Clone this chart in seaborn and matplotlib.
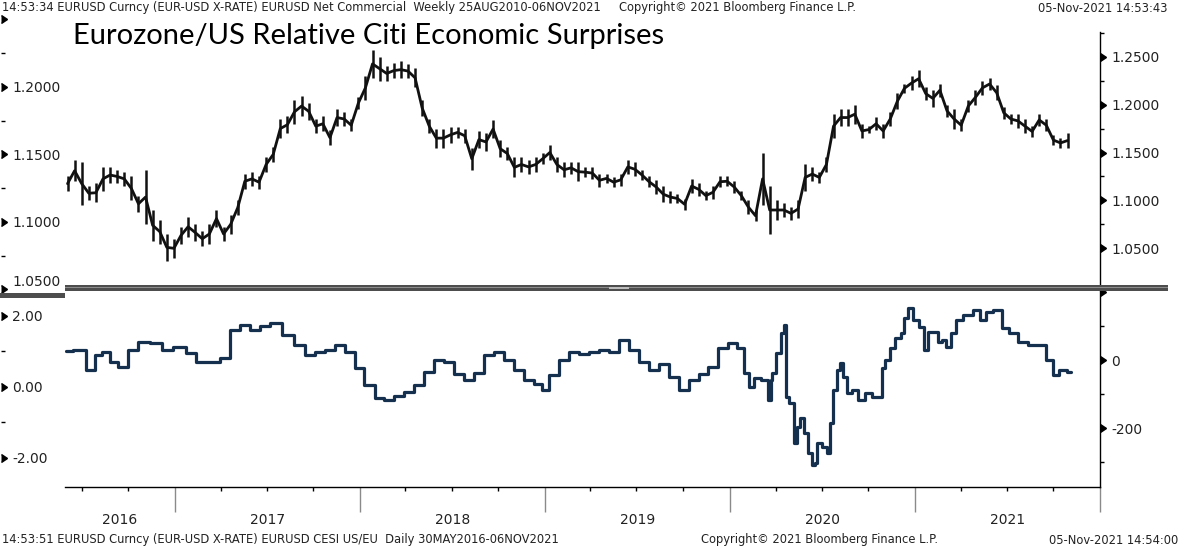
import pandas as pd
import matplotlib.pyplot as plt
import matplotlib.dates as mdates
import matplotlib.markers as mmarkers
import matplotlib.transforms as mtransforms
from matplotlib.patches import Rectangle
import seaborn as sns

sns.set_style('white')
plt.rcParams['font.family'] = ['DejaVu Sans']

# ---- data ----
# EURUSD, bi-weekly high / low
eur_dates = pd.date_range('2016-06-03', periods=142, freq='14D')
eur_hi = [1.125, 1.142, 1.140, 1.115, 1.118, 1.135, 1.135, 1.132, 1.130, 1.125, 1.105, 1.132, 1.090, 1.080, 1.065, 1.060,
          1.072, 1.083, 1.075, 1.068, 1.075, 1.090, 1.072, 1.085, 1.100, 1.128, 1.130, 1.126, 1.145, 1.156, 1.185, 1.188,
          1.205, 1.209, 1.202, 1.185, 1.188, 1.173, 1.195, 1.192, 1.185, 1.208,
          1.230, 1.257, 1.250, 1.240, 1.243, 1.245, 1.242, 1.238, 1.205, 1.185, 1.175, 1.175, 1.177, 1.177, 1.175, 1.155,
          1.172, 1.170, 1.184, 1.163, 1.156, 1.145, 1.145, 1.142, 1.145, 1.149,
          1.158, 1.145, 1.140, 1.140, 1.140, 1.135, 1.135, 1.128, 1.128, 1.124, 1.128, 1.142, 1.140, 1.132, 1.125, 1.121,
          1.115, 1.110, 1.107, 1.102, 1.122, 1.118, 1.110, 1.115, 1.125, 1.125,
          1.120, 1.110, 1.100, 1.090, 1.150, 1.115, 1.100, 1.097, 1.093, 1.100, 1.138, 1.135, 1.130, 1.145, 1.190, 1.195,
          1.195, 1.200, 1.180, 1.178, 1.187, 1.180, 1.192, 1.212, 1.222, 1.230,
          1.236, 1.218, 1.215, 1.222, 1.200, 1.195, 1.185, 1.205, 1.215, 1.225, 1.228, 1.220, 1.198, 1.190, 1.190, 1.185,
          1.178, 1.190, 1.185, 1.168, 1.165, 1.170]
eur_lo = [1.110, 1.120, 1.095, 1.100, 1.098, 1.110, 1.118, 1.118, 1.115, 1.100, 1.088, 1.075, 1.058, 1.055, 1.037, 1.040,
          1.055, 1.062, 1.058, 1.052, 1.055, 1.072, 1.058, 1.065, 1.085, 1.112, 1.115, 1.112, 1.130, 1.140, 1.165, 1.170,
          1.180, 1.188, 1.184, 1.170, 1.172, 1.158, 1.178, 1.178, 1.172, 1.195,
          1.205, 1.228, 1.225, 1.225, 1.228, 1.228, 1.228, 1.218, 1.188, 1.170, 1.155, 1.155, 1.160, 1.165, 1.160, 1.132,
          1.155, 1.152, 1.165, 1.145, 1.142, 1.124, 1.130, 1.128, 1.130, 1.138,
          1.142, 1.130, 1.124, 1.128, 1.120, 1.124, 1.122, 1.114, 1.118, 1.114, 1.115, 1.128, 1.125, 1.121, 1.114, 1.107,
          1.098, 1.097, 1.097, 1.090, 1.108, 1.105, 1.100, 1.102, 1.114, 1.115,
          1.108, 1.100, 1.086, 1.078, 1.095, 1.065, 1.080, 1.083, 1.080, 1.082, 1.110, 1.120, 1.118, 1.130, 1.165, 1.178,
          1.178, 1.180, 1.165, 1.170, 1.173, 1.165, 1.178, 1.195, 1.212, 1.215,
          1.218, 1.205, 1.198, 1.208, 1.187, 1.175, 1.172, 1.192, 1.200, 1.210, 1.215, 1.205, 1.185, 1.180, 1.176, 1.170,
          1.166, 1.178, 1.172, 1.158, 1.155, 1.155]
eur_mid = [(h + l) / 2 for h, l in zip(eur_hi, eur_lo)]

# CESI US/EU (daily, sampled)
cesi_dates = pd.to_datetime([
    '2016-05-30', '2016-06-28', '2016-07-22', '2016-07-31', '2016-08-20', '2016-09-01', '2016-09-21', '2016-10-10',
    '2016-10-30', '2016-11-27', '2016-12-16', '2017-01-11', '2017-02-05', '2017-02-19', '2017-03-21', '2017-04-09',
    '2017-04-29', '2017-05-19', '2017-06-08', '2017-06-27', '2017-07-17', '2017-08-15', '2017-09-04', '2017-09-24',
    '2017-10-14', '2017-11-02', '2017-11-22', '2017-12-12', '2017-12-31', '2018-01-20', '2018-02-09', '2018-02-28',
    '2018-03-20', '2018-04-09', '2018-04-28', '2018-05-18', '2018-06-07', '2018-06-26', '2018-07-16', '2018-08-05',
    '2018-08-25', '2018-09-13', '2018-10-03', '2018-10-23', '2018-11-11', '2018-12-01', '2018-12-21', '2018-12-31',
    '2019-01-19', '2019-02-08', '2019-02-28', '2019-03-19', '2019-04-08', '2019-04-28', '2019-05-17', '2019-06-06',
    '2019-06-26', '2019-07-15', '2019-08-04', '2019-08-24', '2019-09-13', '2019-10-02', '2019-10-22', '2019-11-11',
    '2019-11-26', '2019-12-20', '2020-01-05', '2020-01-24', '2020-02-03', '2020-02-13', '2020-02-23', '2020-03-12',
    '2020-03-22', '2020-03-24', '2020-03-27', '2020-04-06', '2020-04-16', '2020-04-20', '2020-04-22', '2020-05-02',
    '2020-05-10', '2020-05-16', '2020-05-22', '2020-05-31', '2020-06-08', '2020-06-14', '2020-06-20', '2020-06-24',
    '2020-07-08', '2020-07-14', '2020-07-20', '2020-07-27', '2020-08-02', '2020-08-08', '2020-08-16', '2020-08-22',
    '2020-09-05', '2020-09-17', '2020-09-30', '2020-10-14', '2020-10-26', '2020-10-28', '2020-11-09', '2020-11-15',
    '2020-11-29', '2020-12-08', '2020-12-14', '2020-12-22', '2021-01-03', '2021-01-13', '2021-01-23', '2021-01-31',
    '2021-02-11', '2021-02-19', '2021-03-01', '2021-03-07', '2021-03-17', '2021-03-27', '2021-04-15', '2021-05-05',
    '2021-05-15', '2021-05-25', '2021-06-13', '2021-06-29', '2021-07-13', '2021-08-02', '2021-08-21', '2021-09-10',
    '2021-09-24', '2021-10-06', '2021-10-19', '2021-11-05'])
cesi_vals = [26, 29, -29, 15, 23, -6, -20, 29,
             53, 50, 29, 38, 20, -6, -6, 6,
             88, 102, 88, 100, 108, 73, 44, 15,
             23, 29, 44, 23, -23, -73, -111, -117,
             -105, -94, -73, -35, 0, -6, -41, -59,
             -38, 15, 23, 0, -29, -59, -70, -88,
             -44, 0, 23, 18, 23, 29, 23, 59,
             29, -6, -29, -12, -50, -88, -59, -41,
             -20, 35, 50, 35, -38, -79, -53, -59,
             -117, -59, -38, 20, 79, 102, -108, -126,
             -243, -196, -170, -214, -272, -307, -302, -243,
             -255, -272, -184, -88, -29, -9, -50, -97,
             -88, -117, -97, -108, -108, -23, 0, 35,
             64, 79, 123, 152, 117, 97, 29, 82,
             82, 53, 59, 38, 79, 117, 132, 146,
             117, 141, 146, 94, 79, 53, 44, 44,
             0, -44, -29, -35]

eur_ticks = [1.05, 1.10, 1.15, 1.20, 1.25]
eur_minor = [1.075, 1.125, 1.175, 1.225, 1.275]
left_top_ticks = [1.05, 1.10, 1.15, 1.20, 1.25]
left_top_minor = [1.075, 1.125, 1.175, 1.225]
cesi_ticks = [-200, 0, 200]
cesi_labels = ['-200', '0', '']
cesi_minor = [-300, -100, 100]
left_bot_ticks = [-2, 0, 2]
left_bot_minor = [-1, 1]
years = [2016, 2017, 2018, 2019, 2020, 2021]

# ---- layout in pixels ----
W, H = 1187, 548
fig = plt.figure(figsize=(W / 100, H / 100), dpi=100)


def box(x0, y0, x1, y1):
    return [x0 / W, 1 - y1 / H, (x1 - x0) / W, (y1 - y0) / H]


ax_top = fig.add_axes(box(65, 18, 1100, 290))
ax_bot = fig.add_axes(box(65, 290, 1100, 487), sharex=ax_top)
axl_top = fig.add_axes(box(0, 18, 1, 290))
axl_bot = fig.add_axes(box(0, 290, 1, 487))

tick_col = '#222222'
line_col = '#14304e'

# top panel: EURUSD bars
ax_top.vlines(eur_dates, eur_lo, eur_hi, color='#111111', lw=1.8)
sns.lineplot(x=eur_dates, y=eur_mid, ax=ax_top, color='#111111', lw=2.0, estimator=None)
ax_top.set_ylim(1.0065, 1.2904)

# bottom panel: CESI line
sns.lineplot(x=cesi_dates, y=cesi_vals, ax=ax_bot, color=line_col, lw=2.3,
             estimator=None, drawstyle='steps-mid')
ax_bot.set_ylim(-371.9, 205)
ax_bot.set_xlim(pd.Timestamp('2016-05-29'), pd.Timestamp('2022-01-01'))

for ax in (ax_top, ax_bot):
    ax.set_xlabel('')
    ax.set_ylabel('')
    ax.set_facecolor('none')
    for s in ('left', 'top'):
        ax.spines[s].set_visible(False)
    ax.spines['right'].set_color('black')
    ax.spines['right'].set_linewidth(1.0)
    ax.yaxis.tick_right()
ax_top.spines['bottom'].set_visible(False)
ax_top.spines['right'].set_bounds(1.0065, 1.2755)
ax_bot.spines['bottom'].set_color('black')
ax_bot.spines['bottom'].set_linewidth(1.0)

ax_top.set_yticks(eur_ticks)
ax_top.set_yticklabels([f'{v:.4f}' for v in eur_ticks])
ax_top.set_yticks(eur_minor, minor=True)
ax_bot.set_yticks(cesi_ticks)
ax_bot.set_yticklabels(cesi_labels)
ax_bot.set_yticks(cesi_minor, minor=True)

# left scales (separate axes sitting at the figure edge)
axl_top.set_ylim(1.0495, 1.2509)
axl_top.set_yticks(left_top_ticks)
axl_top.set_yticklabels([f'{v:.4f}' for v in left_top_ticks[:-1]] + [''])
axl_top.set_yticks(left_top_minor, minor=True)
axl_bot.set_ylim(-2.833, 2.73)
axl_bot.set_yticks(left_bot_ticks)
axl_bot.set_yticklabels([f'{v:.2f}' for v in left_bot_ticks])
axl_bot.set_yticks(left_bot_minor, minor=True)
for ax in (axl_top, axl_bot):
    ax.set_facecolor('none')
    ax.set_xticks([])
    for s in ax.spines.values():
        s.set_visible(False)
    ax.yaxis.tick_right()

for ax in (ax_top, ax_bot, axl_top, axl_bot):
    ax.tick_params(axis='y', which='major', direction='out', length=6, width=1,
                   pad=2, labelsize=10, color='black', labelcolor=tick_col)
    ax.tick_params(axis='y', which='minor', direction='out', length=3, width=1, color='black')
    for t in ax.yaxis.get_major_ticks():
        t.tick2line.set_marker(mmarkers.CARETRIGHTBASE)
        t.tick2line.set_markersize(6)

# the 1.0500 label sits just above the divider
axl_top.get_yticklabels()[0].set_va('bottom')

# x axis: years with quarter ticks
ax_top.tick_params(axis='x', which='both', bottom=False, labelbottom=False)
ax_bot.xaxis.set_major_locator(mdates.YearLocator())
ax_bot.xaxis.set_minor_locator(mdates.MonthLocator([4, 7, 10]))
ax_bot.xaxis.set_major_formatter(plt.NullFormatter())
ax_bot.xaxis.set_minor_formatter(plt.NullFormatter())
ax_bot.tick_params(axis='x', which='major', bottom=True, direction='out', length=18, width=1, color='#8a8a8a')
ax_bot.tick_params(axis='x', which='minor', bottom=True, direction='out', length=3, width=1, color='black')

x0, x1 = ax_bot.get_xlim()
trans = mtransforms.blended_transform_factory(ax_bot.transData, fig.transFigure)
for yr in years:
    a = max(mdates.date2num(pd.Timestamp(f'{yr}-01-01')), x0)
    b = min(mdates.date2num(pd.Timestamp(f'{yr + 1}-01-01')), x1)
    ax_bot.text((a + b) / 2, 1 - 520 / H, str(yr), transform=trans, ha='center', va='center',
                fontsize=10, color=tick_col)

# divider between the panels
fig.add_artist(Rectangle((65 / W, 1 - 290.5 / H), (1168 - 65) / W, 5.5 / H, transform=fig.transFigure,
                         facecolor='#4d4d4d', edgecolor='none', zorder=5))
fig.add_artist(Rectangle((65 / W, 1 - 288.2 / H), (1168 - 65) / W, 1 / H, transform=fig.transFigure,
                         facecolor='#8c8c8c', edgecolor='none', zorder=6))
fig.add_artist(Rectangle((0, 1 - 298 / H), 65 / W, 5 / H, transform=fig.transFigure,
                         facecolor='#4d4d4d', edgecolor='none', zorder=5))
fig.add_artist(Rectangle((609 / W, 1 - 289 / H), 20 / W, 2 / H, transform=fig.transFigure,
                         facecolor='#bdbdbd', edgecolor='none', zorder=7))

# header / footer text
hdr = dict(fontsize=8.3, color='#222222', va='center')
fig.text(2 / W, 1 - 8 / H, '14:53:34 EURUSD Curncy (EUR-USD X-RATE) EURUSD Net Commercial  Weekly 25AUG2010-06NOV2021',
         ha='left', **hdr)
fig.text(619 / W, 1 - 8 / H, 'Copyright© 2021 Bloomberg Finance L.P.', ha='left', **hdr)
fig.text(1168 / W, 1 - 8 / H, '05-Nov-2021 14:53:43', ha='right', **hdr)
fig.text(2 / W, 1 - 540 / H, '14:53:51 EURUSD Curncy (EUR-USD X-RATE) EURUSD CESI US/EU  Daily 30MAY2016-06NOV2021',
         ha='left', **hdr)
fig.text(701 / W, 1 - 540 / H, 'Copyright© 2021 Bloomberg Finance L.P.', ha='left', **hdr)
fig.text(1178 / W, 1 - 540 / H, '05-Nov-2021 14:54:00', ha='right', **hdr)

fig.text(73 / W, 1 - 36 / H, 'Eurozone/US Relative Citi Economic Surprises', fontsize=21,
         family=['Lato', 'DejaVu Sans'], color='black', va='center', ha='left', zorder=8)

fig.savefig('out.png', dpi=100)
